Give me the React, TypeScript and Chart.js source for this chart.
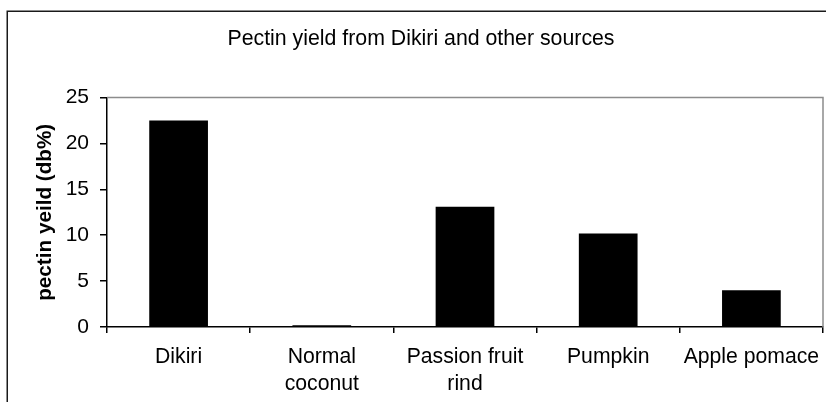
import React, { useEffect, useRef } from "react";
import { Chart, registerables } from "chart.js";

Chart.register(...registerables);

const categories: (string | string[])[] = [
  "Dikiri",
  ["Normal", "coconut"],
  ["Passion fruit", "rind"],
  "Pumpkin",
  "Apple pomace",
];
const pectinYield: number[] = [22.5, 0.2, 13.1, 10.2, 4.0];
const chartTitle = "Pectin yield from Dikiri and other sources";
const yAxisTitle = "pectin yeild (db%)";
const yMin = 0;
const yMax = 25;
const yStep = 5;

const FONT = "'Liberation Sans', Arial, Helvetica, sans-serif";

const framePlugin = {
  id: "frame",
  beforeDraw(chart: any) {
    const { ctx } = chart;
    ctx.save();
    ctx.fillStyle = "#ffffff";
    ctx.fillRect(0, 0, chart.width, chart.height);
    ctx.strokeStyle = "#1a1a1a";
    ctx.lineWidth = 1.5;
    ctx.strokeRect(7.25, 11.25, 828, 420);
    ctx.restore();
  },
  afterDraw(chart: any) {
    const { ctx, chartArea } = chart;
    ctx.save();
    ctx.strokeStyle = "#8c8c8c";
    ctx.lineWidth = 1.5;
    ctx.beginPath();
    ctx.moveTo(chartArea.left, chartArea.top);
    ctx.lineTo(chartArea.right, chartArea.top);
    ctx.lineTo(chartArea.right, chartArea.bottom);
    ctx.stroke();
    ctx.restore();
  },
};

export default function App() {
  const canvasRef = useRef<HTMLCanvasElement | null>(null);

  useEffect(() => {
    if (!canvasRef.current) return;
    const chart = new Chart(canvasRef.current, {
      type: "bar",
      data: {
        labels: categories as any,
        datasets: [
          {
            data: pectinYield,
            backgroundColor: "#000000",
            borderWidth: 0,
            categoryPercentage: 1,
            barPercentage: 0.41,
          },
        ],
      },
      options: {
        animation: false,
        responsive: false,
        devicePixelRatio: 1,
        layout: { padding: { left: 0, right: 0, top: 0, bottom: 0 }, autoPadding: false },
        plugins: {
          legend: { display: false },
          tooltip: { enabled: false },
          title: {
            display: true,
            text: chartTitle,
            color: "#000",
            font: { family: FONT, size: 21.3, weight: "normal" },
            padding: { top: 26, bottom: 46 },
          },
        },
        scales: {
          x: {
            offset: true,
            grid: {
              offset: true,
              drawOnChartArea: false,
              drawTicks: true,
              tickLength: 6,
              color: "#000",
              lineWidth: 1.5,
            },
            border: { display: true, color: "#000", width: 1.5 },
            ticks: {
              color: "#000",
              padding: 11,
              maxRotation: 0,
              autoSkip: false,
              font: { family: FONT, size: 21.2, lineHeight: 1.25 },
            },
            afterFit(scale: any) {
              scale.height = 93;
            },
          },
          y: {
            min: yMin,
            max: yMax,
            grid: {
              drawOnChartArea: false,
              drawTicks: true,
              tickLength: 7,
              color: "#000",
              lineWidth: 1.5,
            },
            border: { display: true, color: "#000", width: 1.5 },
            ticks: {
              stepSize: yStep,
              color: "#000",
              padding: 11,
              font: { family: FONT, size: 21 },
            },
            title: {
              display: true,
              text: yAxisTitle,
              color: "#000",
              font: { family: FONT, size: 20.7, weight: "bold", lineHeight: 1.2 },
              padding: { top: 33, bottom: 0 },
            },
            afterFit(scale: any) {
              scale.width = 107;
            },
          },
          yRight: {
            position: "right",
            display: true,
            grid: { display: false, drawTicks: false },
            border: { display: false },
            ticks: { display: false },
            afterFit(scale: any) {
              scale.width = 19;
            },
          },
        },
      },
      plugins: [framePlugin],
    });
    return () => chart.destroy();
  }, []);

  return (
    <div
      style={{
        position: "fixed",
        left: 0,
        top: 0,
        width: 826,
        height: 402,
        overflow: "hidden",
        background: "#fff",
      }}
    >
      <canvas ref={canvasRef} width={842} height={420} />
    </div>
  );
}
